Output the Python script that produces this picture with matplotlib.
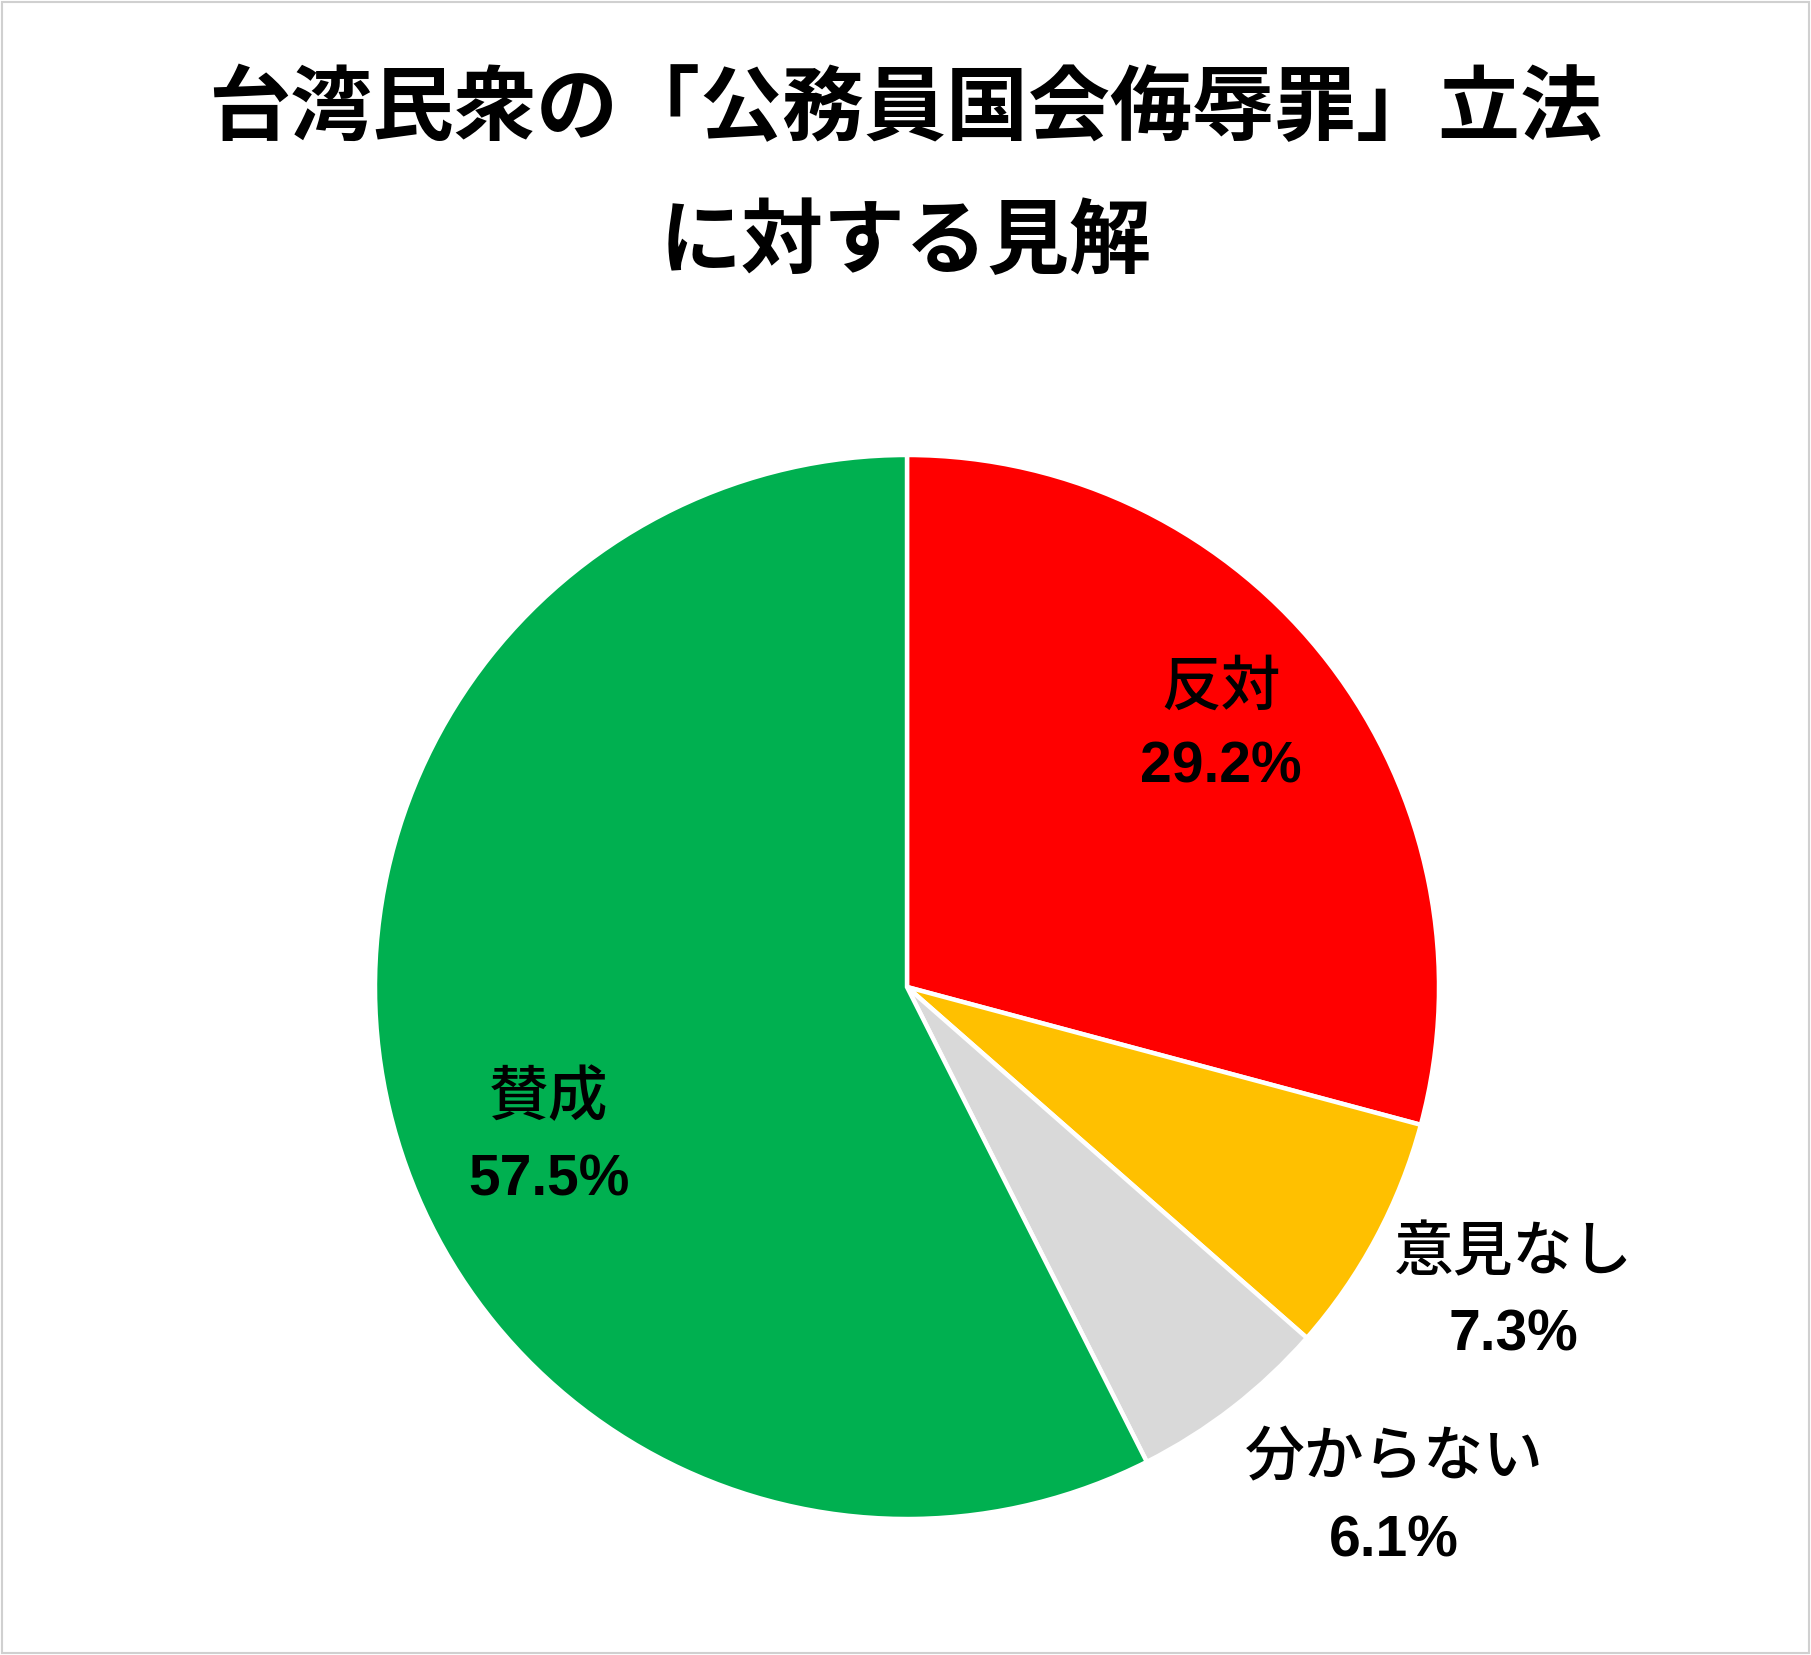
import matplotlib
matplotlib.use("Agg")
import matplotlib.pyplot as plt
from matplotlib.patches import Rectangle

plt.rcParams["font.family"] = ["Noto Sans CJK JP", "DejaVu Sans"]

# ── Data ──────────────────────────────────────────────────────────────────────
labels = ["反対", "意見なし", "分からない", "賛成"]
values = [29.2, 7.3, 6.1, 57.5]
colors = ["#FF0000", "#FFC000", "#D9D9D9", "#00B050"]

title = "台湾民衆の「公務員国会侮辱罪」立法\nに対する見解"

# label anchor (name line, pct line) in pie data units
label_pos = [(0.590, 0.564, 0.412),
             (1.139, -0.500, -0.656),
             (0.915, -0.885, -1.043),
             (-0.673, -0.207, -0.363)]

W, H = 1811, 1655
fig = plt.figure(figsize=(W / 100, H / 100), dpi=100)
fig.patch.set_facecolor("white")

# thin grey frame round the picture
fig.patches.append(Rectangle((0.001, 0.001), 0.998, 0.998, transform=fig.transFigure,
                             fill=False, edgecolor="#D0D0D0", linewidth=1.5))

# pie: centre (907, 987) px, radius 532 px
cx, cy, r = 907, 987, 532
ax = fig.add_axes([(cx - r) / W, (H - cy - r) / H, 2 * r / W, 2 * r / H])
ax.pie(values, colors=colors, startangle=90, counterclock=False, radius=1,
       wedgeprops=dict(edgecolor="white", linewidth=3.2))
ax.set_xlim(-1, 1)
ax.set_ylim(-1, 1)
ax.set_aspect("auto")
ax.axis("off")

for lab, val, (x, y1, y2) in zip(labels, values, label_pos):
    ax.text(x, y1, lab, ha="center", va="center", fontsize=43, fontweight="medium",
            color="black", clip_on=False)
    ax.text(x, y2, f"{val:.1f}%", ha="center", va="center", fontsize=41,
            fontweight="bold", family=["Liberation Sans", "DejaVu Sans"],
            color="black", clip_on=False)

lines = title.split("\n")
fig.text(0.5, 1 - 110 / H, lines[0], ha="center", va="center",
         fontsize=59, fontweight="bold")
fig.text(0.5, 1 - 243 / H, lines[1], ha="center", va="center",
         fontsize=59, fontweight="bold")

fig.savefig("out.png", dpi=100, facecolor="white")
